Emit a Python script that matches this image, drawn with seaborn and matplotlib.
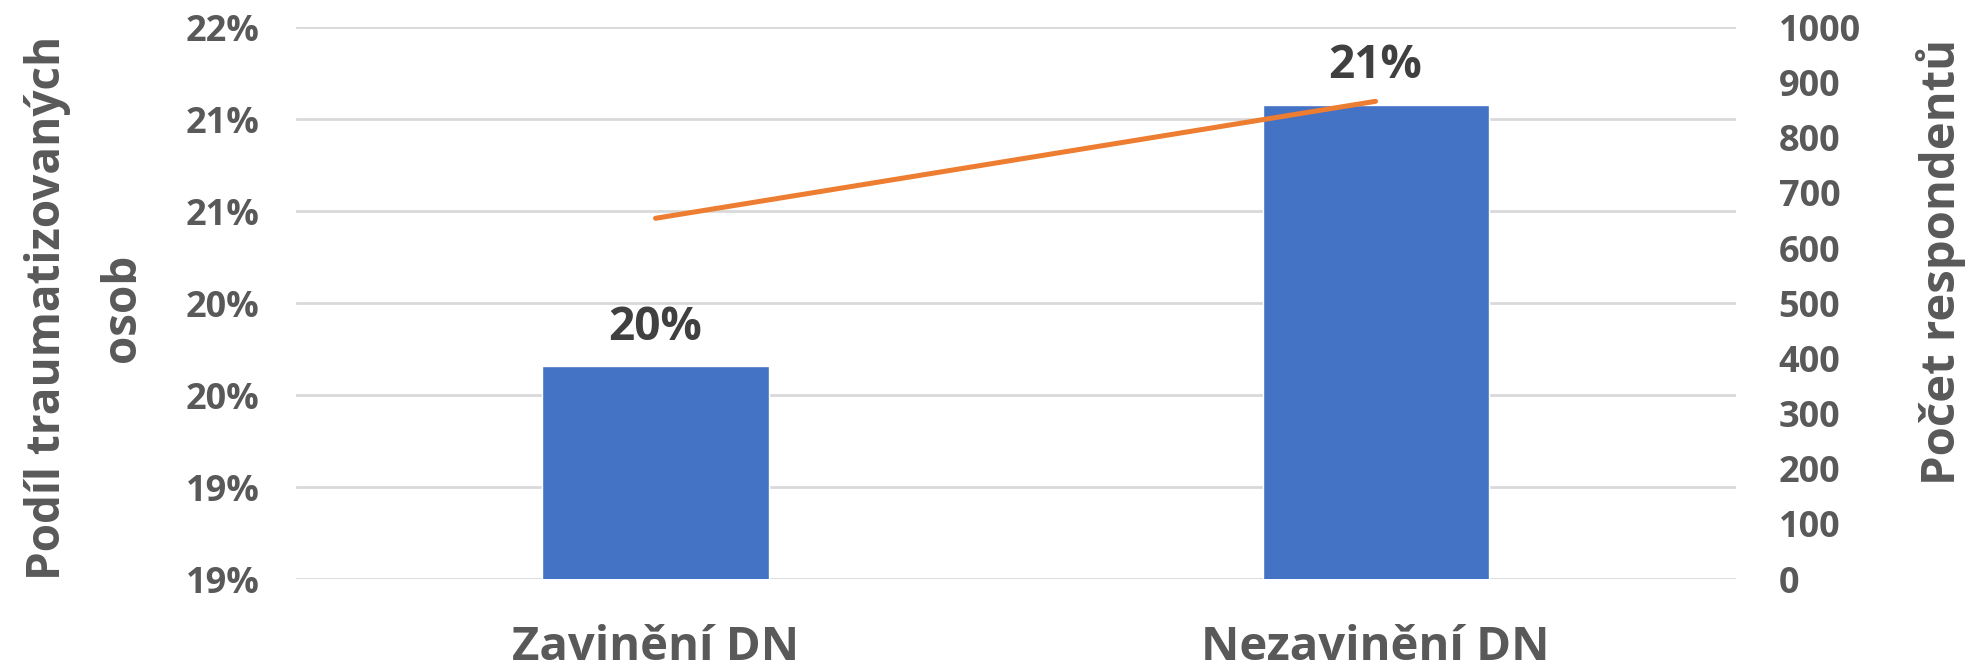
import pandas as pd
import seaborn as sns
import matplotlib.pyplot as plt

# data
categories = ['Zavinění DN', 'Nezavinění DN']
share_traumatized = [0.2016, 0.2158]
share_labels = ['20%', '21%']
respondents = [654, 866]

left_ticks = [0.19, 0.195, 0.20, 0.205, 0.21, 0.215, 0.22]
left_tick_labels = ['19%', '19%', '20%', '20%', '21%', '21%', '22%']
right_ticks = list(range(0, 1001, 100))

df = pd.DataFrame({'kategorie': categories,
                   'podil': share_traumatized,
                   'pocet': respondents})

sns.set_style('white')
plt.rcParams['font.family'] = ['Open Sans', 'DejaVu Sans']
plt.rcParams['font.weight'] = 'bold'

grey = '#595959'

fig, ax = plt.subplots(figsize=(19.7, 6.68), dpi=100)
fig.subplots_adjust(left=0.150, right=0.881, top=0.959, bottom=0.133)

# bars - share of traumatized people
sns.barplot(data=df, x='kategorie', y='podil', color='#4472C4',
            width=0.314, saturation=1, ax=ax, zorder=2)
ax.set_ylim(0.19, 0.22)
ax.set_xlim(-0.5, 1.5)
ax.set_yticks(left_ticks)
ax.set_yticklabels(left_tick_labels)
ax.yaxis.grid(True, color='#D9D9D9', linewidth=2)
ax.set_axisbelow(True)
ax.set_xlabel('')
ax.set_ylabel('')
ax.tick_params(axis='y', length=0, pad=26, labelsize=26, labelcolor=grey)
ax.tick_params(axis='x', length=0, pad=32, labelsize=34, labelcolor=grey)
for lbl in ax.get_xticklabels() + ax.get_yticklabels():
    lbl.set_fontweight('bold')

ax.bar_label(ax.containers[0], labels=share_labels, padding=11,
             fontsize=33, fontweight='bold', color='#404040')

# line - number of respondents
ax2 = ax.twinx()
sns.lineplot(data=df, x='kategorie', y='pocet', color='#ED7D31',
             linewidth=3.6, sort=False, ax=ax2, solid_capstyle='round')
ax2.set_ylim(0, 1000)
ax2.set_yticks(right_ticks)
ax2.set_ylabel('')
ax2.tick_params(axis='y', length=0, pad=31, labelsize=26, labelcolor=grey)
for lbl in ax2.get_yticklabels():
    lbl.set_fontweight('bold')
    lbl.set_horizontalalignment('left')

for a in (ax, ax2):
    for s in a.spines.values():
        s.set_visible(False)

fig.text(85 / 1970, 1 - 308 / 668, 'Podíl traumatizovaných\nosob',
         rotation=90, ha='center', va='center', fontsize=33,
         fontweight='bold', color=grey, linespacing=1.8, multialignment='center')
fig.text(1941 / 1970, 1 - 262 / 668, 'Počet respondentů',
         rotation=90, ha='center', va='center', fontsize=34,
         fontweight='bold', color=grey)

plt.savefig('out.png', dpi=100)
